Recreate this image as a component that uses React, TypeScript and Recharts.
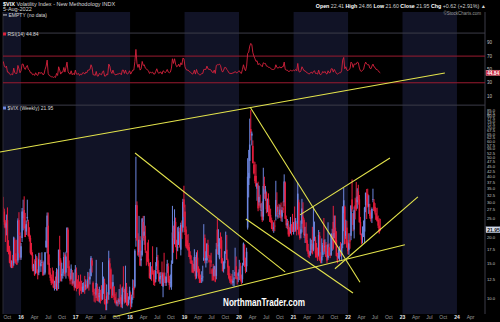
import React from 'react'
import { ComposedChart, Bar, Line, XAxis, YAxis, ReferenceArea, ReferenceLine } from 'recharts'

// weekly candles: open, high, low, close
type Candle = [number, number, number, number]

const FIRST_WEEK = '2015-09-04'
const WEEK_MS = 7 * 24 * 3600 * 1000
const X_START = Date.parse('2015-09-02')
const X_END = Date.parse('2024-07-07')

const vix2015: Candle[] = [
  [28.4, 31.9, 24.0, 27.8], [27.0, 27.9, 22.5, 23.2], [24.0, 24.5, 19.1, 22.3], [22.5, 26.1, 20.6, 23.6],
  [24.5, 28.3, 17.1, 17.1], [18.0, 19.5, 16.6, 17.1], [17.5, 18.3, 15.0, 15.1], [15.5, 17.2, 14.3, 14.5],
  [15.0, 15.5, 14.2, 15.1], [15.4, 16.5, 14.2, 14.3], [15.0, 20.3, 14.6, 20.1], [19.5, 19.9, 15.3, 15.5],
  [15.7, 16.8, 14.9, 15.1], [15.1, 19.6, 14.7, 14.8], [15.5, 25.0, 15.1, 24.4], [24.5, 26.8, 16.8, 20.7],
  [20.5, 21.3, 15.6, 16.0],
]
const vix2016: Candle[] = [
  [16.0, 18.9, 15.6, 18.2], [20.0, 28.1, 19.1, 27.0], [25.0, 30.9, 21.8, 27.0], [27.5, 32.1, 22.3, 22.3],
  [23.0, 26.6, 20.2, 20.2], [21.5, 24.4, 20.7, 23.4], [25.0, 30.9, 24.1, 25.4], [24.0, 24.6, 20.3, 20.5],
  [21.0, 22.6, 19.2, 19.8], [20.0, 20.6, 16.6, 16.9], [17.5, 18.9, 16.4, 16.5], [16.5, 17.0, 13.7, 14.0],
  [14.2, 14.9, 13.7, 14.7], [14.7, 15.7, 13.0, 13.1], [13.5, 16.6, 13.3, 15.4], [16.0, 16.3, 13.4, 13.6],
  [13.7, 14.0, 12.5, 13.2], [13.5, 16.9, 13.1, 15.7], [15.5, 16.9, 14.5, 14.7], [14.5, 15.6, 13.6, 15.0],
  [15.2, 17.0, 15.0, 15.2], [15.0, 15.5, 13.0, 13.1], [13.5, 15.3, 13.1, 13.5], [13.5, 17.0, 13.2, 17.0],
  [18.0, 22.6, 17.9, 19.4], [18.0, 26.7, 16.8, 25.8], [23.0, 26.7, 14.7, 14.8], [15.0, 16.6, 13.2, 13.2],
  [13.5, 14.2, 12.3, 12.7], [12.8, 13.2, 11.7, 12.0], [12.5, 14.3, 11.9, 12.0], [12.5, 13.8, 11.3, 11.4],
  [11.6, 12.3, 11.0, 11.6], [12.0, 12.9, 11.2, 11.3], [11.5, 14.2, 11.0, 13.6], [13.5, 14.0, 11.0, 11.9],
  [12.0, 17.5, 11.2, 17.5], [17.5, 20.5, 14.6, 15.4], [15.5, 15.9, 12.2, 12.3], [13.0, 15.1, 12.2, 13.3],
  [13.5, 14.1, 12.6, 13.5], [13.5, 17.0, 13.0, 16.1], [16.5, 16.8, 12.9, 13.3], [13.5, 17.1, 12.6, 16.2],
  [17.0, 22.5, 16.9, 22.5], [22.0, 22.5, 13.0, 14.2], [14.5, 15.5, 12.6, 12.9], [13.0, 13.4, 11.8, 12.3],
  [12.5, 14.8, 12.5, 14.1], [13.5, 13.9, 11.6, 11.8], [12.0, 13.5, 11.8, 12.2], [12.2, 12.3, 11.0, 11.4],
  [11.5, 14.7, 11.3, 14.0],
]
const vix2017: Candle[] = [
  [13.5, 14.3, 10.9, 11.3], [11.8, 12.5, 11.2, 11.2], [11.8, 13.1, 11.3, 11.5], [11.8, 12.2, 10.4, 10.6],
  [11.5, 13.2, 11.0, 11.0], [11.5, 12.3, 10.6, 10.9], [11.0, 12.0, 10.8, 11.5], [11.5, 12.1, 10.8, 11.5],
  [11.8, 13.0, 10.6, 11.0], [11.5, 12.5, 11.1, 11.7], [11.8, 12.3, 11.2, 11.3], [11.5, 13.6, 11.3, 12.5],
  [12.8, 13.5, 11.0, 12.4], [12.5, 14.1, 11.8, 12.9], [13.0, 16.3, 12.9, 15.96], [15.5, 15.9, 13.5, 14.6],
  [12.0, 12.2, 10.4, 10.8], [10.8, 11.2, 9.7, 10.6], [10.5, 11.3, 9.6, 10.4], [10.5, 15.6, 10.1, 12.0],
  [11.5, 11.9, 9.8, 9.8], [10.4, 11.2, 9.7, 9.75], [10.2, 11.5, 9.6, 10.7], [10.6, 11.1, 9.5, 10.4],
  [10.5, 11.7, 9.8, 10.0], [10.0, 15.2, 9.9, 11.2], [11.5, 12.9, 10.6, 12.1], [12.0, 12.6, 9.4, 9.5],
  [9.6, 10.0, 8.8, 9.4], [9.5, 11.8, 8.8, 10.3], [10.5, 10.8, 9.5, 10.0], [10.5, 17.3, 9.9, 15.5],
  [15.0, 15.9, 11.1, 14.3], [14.0, 14.3, 11.2, 11.3], [11.5, 12.1, 10.1, 10.1], [11.5, 13.2, 10.4, 12.1],
  [11.5, 11.6, 9.9, 10.2], [10.2, 10.6, 9.5, 9.6], [9.8, 10.8, 9.3, 9.5], [9.5, 9.9, 9.2, 9.7],
  [9.8, 10.1, 9.2, 9.6], [9.7, 11.2, 9.4, 9.97], [10.2, 11.8, 9.5, 9.8], [10.2, 10.5, 9.1, 9.1],
  [9.4, 11.5, 9.0, 11.3], [11.5, 14.5, 10.8, 11.4], [11.0, 11.2, 9.5, 9.7], [10.0, 14.6, 9.6, 11.4],
  [11.5, 12.0, 9.3, 9.6], [10.0, 10.7, 9.2, 9.4], [9.5, 10.3, 9.3, 9.9], [10.0, 11.5, 9.9, 11.0],
]
const vix2018: Candle[] = [
  [10.5, 10.8, 8.9, 9.2], [9.5, 10.5, 9.1, 10.2], [10.5, 12.5, 9.9, 11.3], [11.5, 12.4, 10.1, 11.1],
  [11.5, 17.6, 11.3, 17.3], [20.0, 50.3, 18.1, 29.1], [29.0, 30.3, 19.3, 19.5], [19.5, 21.1, 16.3, 16.5],
  [17.0, 25.7, 16.1, 19.6], [19.5, 20.4, 14.6, 14.6], [15.5, 17.3, 14.5, 15.8], [16.5, 25.1, 16.2, 24.9],
  [24.0, 25.7, 19.4, 19.97], [20.5, 25.7, 18.5, 21.5], [20.5, 23.0, 16.9, 17.4], [17.0, 17.3, 14.6, 16.9],
  [17.0, 19.0, 15.2, 15.4], [15.8, 19.6, 14.5, 14.8], [14.8, 15.1, 12.6, 12.7], [13.0, 15.2, 12.5, 13.4],
  [13.5, 14.5, 12.3, 13.2], [14.0, 18.2, 13.2, 13.5], [13.5, 13.8, 11.7, 12.2], [12.5, 13.9, 11.6, 12.0],
  [12.5, 15.2, 12.1, 13.8], [14.5, 18.0, 13.9, 16.1], [15.5, 16.5, 13.3, 13.4], [13.5, 13.9, 12.2, 12.2],
  [12.5, 13.5, 11.9, 12.9], [12.8, 13.6, 11.9, 13.0], [13.5, 15.3, 11.6, 11.6], [11.5, 13.5, 10.2, 13.2],
  [13.5, 16.9, 12.0, 12.6], [12.8, 13.0, 11.6, 12.0], [12.0, 13.5, 11.6, 12.9], [13.5, 15.6, 13.4, 14.9],
  [14.5, 15.0, 12.0, 12.1], [12.5, 13.0, 11.1, 11.7], [12.0, 13.2, 11.4, 12.1], [11.5, 15.5, 11.1, 14.8],
  [15.0, 28.8, 14.9, 21.3], [21.5, 23.0, 16.9, 19.9], [20.0, 27.7, 18.6, 24.2], [24.0, 25.2, 18.0, 19.5],
  [19.5, 19.6, 15.7, 17.4], [18.0, 22.6, 17.2, 18.1], [18.5, 22.8, 18.5, 21.5], [21.0, 22.4, 17.9, 18.1],
  [17.5, 23.8, 16.4, 23.2], [23.0, 24.4, 19.8, 21.6], [22.5, 31.2, 21.3, 30.1], [31.0, 36.2, 25.4, 28.3],
]
const vix2019: Candle[] = [
  [27.0, 29.2, 20.7, 21.4], [22.0, 22.8, 17.9, 18.2], [19.5, 20.7, 17.6, 17.8], [18.5, 20.9, 17.3, 17.4],
  [18.0, 18.9, 16.1, 16.1], [16.5, 17.2, 15.0, 15.7], [15.5, 16.4, 14.9, 14.9], [15.0, 15.5, 13.5, 13.5],
  [14.0, 14.9, 13.4, 13.6], [14.0, 17.6, 13.7, 16.1], [15.5, 16.1, 12.5, 12.9], [13.0, 17.0, 12.6, 16.5],
  [16.0, 17.4, 13.5, 13.7], [13.5, 14.5, 12.6, 12.8], [13.0, 14.1, 12.0, 12.0], [12.5, 13.2, 12.0, 12.1],
  [12.5, 13.7, 12.0, 12.7], [12.8, 14.6, 12.2, 12.9], [15.5, 23.4, 15.4, 16.0], [20.0, 20.8, 15.0, 15.96],
  [15.5, 17.2, 14.3, 15.9], [15.5, 18.9, 15.0, 18.7], [18.5, 19.6, 15.9, 16.3], [15.5, 16.5, 15.1, 15.3],
  [15.5, 16.4, 13.3, 15.4], [15.5, 16.9, 14.4, 15.1], [14.0, 14.2, 12.3, 13.3], [14.0, 14.9, 12.3, 12.4],
  [13.0, 14.6, 12.9, 14.5], [14.0, 14.5, 12.1, 12.2], [13.0, 18.9, 12.5, 17.6], [22.0, 24.8, 16.6, 17.97],
  [18.5, 22.1, 16.5, 18.5], [16.0, 19.9, 15.7, 19.9], [19.5, 21.3, 17.7, 19.0], [19.5, 20.3, 15.0, 15.0],
  [15.5, 15.9, 13.7, 13.7], [14.0, 15.3, 13.5, 15.3], [15.0, 17.2, 14.1, 17.2], [17.0, 21.5, 16.7, 17.0],
  [17.5, 20.7, 15.6, 15.6], [15.5, 15.8, 13.1, 14.3], [14.5, 14.6, 12.5, 12.7], [13.0, 13.4, 12.0, 12.3],
  [12.5, 13.0, 11.8, 12.1], [12.5, 13.3, 11.8, 12.05], [12.0, 13.9, 11.6, 12.3], [12.5, 12.8, 11.5, 12.6],
  [13.0, 17.9, 12.6, 13.6], [14.5, 16.2, 12.5, 12.6], [12.8, 13.0, 11.8, 12.5], [13.0, 13.6, 12.1, 13.4],
]
const vix2020: Candle[] = [
  [13.5, 15.6, 12.4, 14.0], [14.5, 15.1, 12.3, 12.6], [12.5, 13.2, 11.8, 12.1], [12.5, 15.1, 12.0, 14.6],
  [15.5, 19.0, 14.6, 18.8], [18.5, 18.6, 14.4, 15.5], [15.5, 16.0, 13.4, 13.7], [14.5, 17.9, 13.6, 17.1],
  [22.5, 49.5, 22.0, 40.1], [36.5, 54.4, 31.7, 41.9], [48.0, 77.6, 39.4, 57.8], [69.0, 85.5, 60.6, 66.0],
  [64.0, 67.0, 57.2, 65.5], [57.0, 60.6, 46.7, 46.8], [46.0, 47.7, 41.2, 41.7], [40.5, 47.5, 37.2, 38.2],
  [40.5, 46.2, 35.9, 35.9], [35.0, 37.2, 30.5, 37.2], [36.5, 37.9, 27.1, 27.98], [30.0, 36.2, 28.9, 31.9],
  [29.5, 32.7, 27.4, 28.2], [27.5, 29.7, 25.5, 27.5], [27.0, 30.3, 24.0, 24.5], [25.5, 44.4, 24.4, 36.1],
  [37.0, 40.1, 31.2, 35.1], [33.0, 36.1, 30.5, 34.7], [33.5, 33.9, 26.5, 27.7], [27.0, 31.3, 26.8, 27.3],
  [31.0, 33.2, 25.6, 25.7], [26.0, 29.0, 24.0, 25.8], [26.0, 27.9, 23.8, 24.5], [24.5, 25.2, 22.1, 22.2],
  [22.5, 24.4, 21.6, 22.1], [22.5, 23.9, 21.2, 22.5], [23.0, 24.5, 21.6, 22.96], [25.5, 38.3, 24.4, 30.8],
  [29.0, 33.6, 25.9, 26.9], [25.5, 28.5, 24.9, 25.8], [26.5, 29.5, 25.1, 26.4], [26.0, 29.2, 25.2, 27.6],
  [27.5, 29.9, 24.2, 25.0], [25.5, 28.4, 24.0, 27.4], [28.0, 30.3, 26.6, 27.6], [30.0, 41.2, 28.7, 38.0],
  [37.5, 38.0, 24.8, 24.9], [25.0, 25.8, 22.4, 23.1], [23.0, 24.8, 22.1, 23.7], [23.0, 24.3, 20.3, 20.8],
  [21.5, 22.6, 20.3, 20.8], [21.5, 25.4, 21.0, 23.3], [23.0, 23.4, 20.6, 21.6], [24.0, 26.3, 21.4, 21.5],
]
const vix2021: Candle[] = [
  [21.5, 24.0, 20.8, 22.75], [25.0, 28.6, 21.4, 21.6], [22.0, 25.1, 21.5, 24.3], [23.5, 23.8, 20.6, 21.9],
  [23.5, 37.5, 22.0, 33.1], [30.0, 30.9, 20.6, 20.9], [21.5, 22.7, 19.6, 19.97], [21.0, 24.4, 19.9, 22.05],
  [23.5, 31.2, 21.3, 27.95], [25.5, 30.0, 22.3, 24.7], [24.5, 25.0, 20.0, 20.7], [20.5, 22.7, 18.9, 20.95],
  [21.0, 23.9, 18.9, 18.9], [19.5, 21.0, 17.1, 17.3], [17.5, 18.7, 16.1, 16.7], [17.0, 17.2, 15.9, 16.25],
  [16.5, 19.9, 16.3, 17.3], [17.5, 19.6, 16.9, 18.6], [18.5, 22.7, 16.6, 16.7], [17.5, 28.4, 17.2, 18.8],
  [20.0, 24.1, 19.3, 20.15], [19.5, 20.3, 16.0, 16.8], [18.0, 18.9, 16.0, 16.4], [17.0, 17.9, 15.4, 15.65],
  [16.5, 21.9, 16.2, 20.7], [20.5, 21.4, 15.4, 15.6], [16.0, 17.0, 15.0, 15.1], [15.5, 19.9, 15.0, 16.2],
  [16.5, 18.9, 16.1, 18.45], [19.5, 25.1, 17.0, 17.2], [18.0, 19.7, 16.6, 18.2], [18.5, 19.1, 16.1, 16.15],
  [16.5, 17.2, 15.0, 15.45], [16.0, 23.9, 15.6, 18.6], [18.0, 18.8, 16.3, 16.4], [16.5, 16.9, 15.9, 16.4],
  [16.5, 21.1, 16.3, 20.95], [20.0, 22.2, 17.3, 20.8], [24.0, 28.8, 17.5, 17.75], [20.0, 25.8, 19.9, 21.15],
  [22.5, 25.8, 18.5, 18.8], [19.5, 21.6, 16.2, 16.3], [16.5, 16.9, 15.0, 15.4], [16.0, 17.6, 15.8, 16.3],
  [16.5, 18.2, 15.4, 16.5], [17.0, 19.1, 16.2, 16.3], [16.5, 18.8, 15.6, 17.9], [18.5, 28.6, 17.8, 28.6],
  [26.5, 35.3, 21.6, 30.7], [28.5, 28.9, 18.6, 18.7], [20.5, 24.6, 19.8, 21.6], [22.5, 24.3, 17.9, 17.96],
  [19.0, 19.5, 16.6, 17.2],
]
const vix2022: Candle[] = [
  [17.5, 21.1, 16.5, 18.8], [19.5, 21.1, 17.7, 19.2], [20.5, 29.0, 19.5, 28.9], [31.0, 38.9, 26.9, 27.7],
  [26.5, 26.6, 21.6, 23.2], [22.0, 28.6, 19.9, 27.4], [29.0, 31.6, 24.7, 27.8], [31.0, 37.8, 27.2, 27.6],
  [30.0, 35.2, 27.9, 32.0], [34.0, 36.6, 29.2, 30.75], [31.0, 32.6, 23.8, 23.9], [24.0, 25.4, 20.6, 20.8],
  [20.5, 21.0, 18.6, 19.6], [20.5, 22.8, 18.8, 21.2], [22.0, 24.4, 20.2, 22.0], [21.5, 28.5, 18.9, 28.2],
  [29.0, 33.5, 26.8, 33.4], [31.0, 34.9, 24.8, 30.2], [33.0, 35.0, 28.3, 28.9], [28.5, 32.5, 26.3, 29.4],
  [27.5, 29.5, 24.9, 25.7], [26.5, 27.0, 24.1, 24.8], [25.0, 28.3, 23.7, 27.8], [31.0, 35.0, 30.0, 31.1],
  [30.0, 31.1, 27.2, 27.2], [28.5, 29.7, 26.1, 26.7], [26.5, 28.1, 24.6, 24.6], [25.5, 28.2, 24.1, 24.2],
  [24.5, 25.8, 22.4, 23.0], [23.0, 25.0, 21.0, 21.3], [22.41, 24.86, 21.6, 21.95],
]

// weekly RSI(14)
const rsi2015 = [62, 55, 53, 55, 46, 46, 43, 42, 43, 42, 52, 45, 44, 44, 56, 51, 45]
const rsi2016 = [
  48, 58, 58, 52, 50, 54, 56, 50, 49, 45, 45, 42, 43, 41, 45, 42, 41, 46, 44, 45, 45, 42, 43, 50, 55, 64,
  44, 41, 40, 39, 39, 38, 39, 38, 44, 41, 54, 49, 43, 46, 46, 53, 46, 53, 61, 47, 44, 43, 48, 42, 44, 42, 49,
]
const rsi2017 = [
  43, 43, 44, 41, 43, 42, 45, 45, 43, 46, 45, 49, 49, 50, 57, 53, 42, 42, 41, 47, 40, 40, 44, 43, 42, 46,
  48, 40, 40, 43, 42, 58, 55, 47, 44, 49, 44, 42, 42, 43, 43, 44, 44, 42, 49, 49, 44, 49, 44, 43, 45, 48,
]
const rsi2018 = [
  43, 46, 49, 49, 62, 80, 59, 53, 58, 49, 51, 62, 56, 57, 52, 51, 49, 48, 44, 46, 45, 46, 43, 43, 47, 51,
  46, 44, 46, 46, 43, 48, 47, 45, 47, 50, 46, 45, 46, 52, 66, 59, 66, 58, 54, 55, 58, 54, 60, 57, 67, 66,
]
const rsi2019 = [
  54, 50, 49, 49, 47, 46, 45, 43, 44, 49, 43, 50, 45, 43, 42, 42, 44, 44, 50, 50, 50, 55, 51, 50, 50, 49,
  46, 45, 49, 44, 56, 57, 57, 58, 56, 49, 46, 49, 53, 53, 50, 48, 45, 44, 44, 44, 45, 45, 47, 45, 45, 47,
]
const rsi2020 = [
  48, 45, 44, 50, 57, 51, 48, 55, 74, 76, 85, 89, 87, 75, 70, 66, 62, 63, 57, 59, 57, 56, 54, 60, 59, 59,
  55, 55, 53, 53, 52, 50, 50, 50, 51, 57, 53, 52, 53, 54, 52, 54, 54, 61, 50, 49, 49, 47, 47, 49, 48, 48,
]
const rsi2021 = [
  49, 48, 50, 48, 59, 47, 46, 48, 54, 51, 48, 48, 46, 45, 44, 43, 45, 46, 44, 47, 48, 44, 44, 43, 49, 43,
  42, 44, 47, 45, 47, 44, 43, 48, 45, 45, 51, 51, 46, 50, 47, 44, 43, 44, 45, 45, 48, 64, 68, 51, 54, 49, 48,
]
const rsi2022 = [
  50, 51, 61, 59, 53, 58, 58, 58, 61, 60, 52, 48, 47, 49, 50, 57, 61, 58, 57, 57, 52, 51, 55, 58, 54, 53,
  50, 50, 48, 46, 44.84,
]

const LAST_CLOSE = 21.95
const LAST_RSI = 44.84

const priceTicks = [10, 12.5, 15, 17.5, 20, 25, 27.5, 30, 32.5, 35, 37.5, 40, 42.5, 45, 47.5, 50, 52.5, 55,
  57.5, 60, 62.5, 65, 67.5, 70, 72.5, 75, 77.5, 80, 82.5, 85, LAST_CLOSE]
const rsiTicks = [10, 30, 50, 70, 90]
const rsiBands = [30, 70]

const shadedYears = [2015, 2017, 2019, 2021, 2023]
const axisYears = [2016, 2017, 2018, 2019, 2020, 2021, 2022, 2023, 2024]
const quarterMonths: [string, string][] = [['04', 'Apr'], ['07', 'Jul'], ['10', 'Oct']]

// hand drawn trend lines: [date, price] -> [date, price]
const trendLines: [string, number, string, number][] = [
  ['2015-08-13', 53.1, '2023-10-12', 130.3],
  ['2018-02-03', 52.5, '2020-11-05', 13.6],
  ['2020-02-16', 24.8, '2022-02-03', 10.7],
  ['2020-03-15', 88.5, '2022-03-22', 12.1],
  ['2017-09-09', 8.15, '2023-01-17', 18.5],
  ['2021-02-13', 26.0, '2022-10-09', 49.6],
  ['2021-10-05', 14.1, '2023-04-14', 31.9],
]

const UP = '#6c86de'
const DOWN = '#e61d3d'
const YELLOW = '#e4e44c'
const NAVY = '#111326'

const candles = [...vix2015, ...vix2016, ...vix2017, ...vix2018, ...vix2019, ...vix2020, ...vix2021, ...vix2022]
const rsiAll = [...rsi2015, ...rsi2016, ...rsi2017, ...rsi2018, ...rsi2019, ...rsi2020, ...rsi2021, ...rsi2022]

const data = candles.map((c, i) => ({
  t: Date.parse(FIRST_WEEK) + i * WEEK_MS,
  open: c[0],
  high: c[1],
  low: c[2],
  close: c[3],
  range: [c[2], c[1]],
  rsi: rsiAll[i],
}))

const xTicks: { t: number; label: string; year: boolean }[] = [{ t: Date.parse('2015-10-01'), label: 'Oct', year: false }]
for (const y of axisYears) {
  xTicks.push({ t: Date.parse(`${y}-01-01`), label: String(y).slice(2), year: true })
  for (const [m, name] of quarterMonths) {
    if (y === 2024 && m !== '04') continue
    xTicks.push({ t: Date.parse(`${y}-${m}-01`), label: name, year: false })
  }
}

function CandleShape(props: any) {
  const { x, y, width, height, payload } = props
  if (!payload || !isFinite(y) || !isFinite(height)) return null
  const { open, high, low, close } = payload
  const span = Math.log(high) - Math.log(low) || 1
  const pos = (v: number) => y + (height * (Math.log(high) - Math.log(v))) / span
  const cx = x + width / 2
  const color = close >= open ? UP : DOWN
  const top = pos(Math.max(open, close))
  const bot = pos(Math.min(open, close))
  return (
    <g>
      <rect x={cx - 0.5} y={y} width={1} height={Math.max(height, 0.6)} fill={color} />
      <rect x={cx - 0.75} y={top} width={1.5} height={Math.max(bot - top, 0.8)} fill={color} />
    </g>
  )
}

function TimeTick(props: any) {
  const { x, y, payload } = props
  const tick = xTicks.find((d) => d.t === payload.value)
  if (!tick) return null
  return (
    <text x={x} y={y} dy={4} textAnchor="middle" fontSize={5} fontWeight={tick.year ? 'bold' : 'normal'}
      fill={tick.year ? '#e6e6e6' : '#9a9a9a'}>
      {tick.label}
    </text>
  )
}

function PriceTick(props: any) {
  const { x, y, payload } = props
  const v = payload.value
  if (v === LAST_CLOSE) {
    return (
      <g>
        <rect x={x - 1} y={y - 3} width={14} height={6} fill="#d3dae8" stroke="#8a96b0" strokeWidth={0.4} />
        <text x={x + 0.2} y={y} dy={1.8} fontSize={5} fontWeight="bold" fill="#111">{v.toFixed(2)}</text>
      </g>
    )
  }
  return (
    <text x={x} y={y} dy={1.5} fontSize={4.2} fill="#c4c4c4">{v.toFixed(1)}</text>
  )
}

function RsiTag(props: any) {
  const vb = props.viewBox
  if (!vb) return null
  const x = vb.x + vb.width + 1
  return (
    <g>
      <rect x={x} y={vb.y - 2.7} width={14} height={5.4} fill="#c8213a" stroke="#f0b0b8" strokeWidth={0.4} />
      <text x={x + 1.2} y={vb.y} dy={1.7} fontSize={4.8} fontWeight="bold" fill="#fff">{LAST_RSI.toFixed(2)}</text>
    </g>
  )
}

export default function App() {
  return (
    <div style={{ position: 'relative', width: 500, height: 322, background: '#000', fontFamily: "'Liberation Sans', Arial, sans-serif" }}>
      <style>{'body{margin:0;background:#000}'}</style>
      <ComposedChart width={500} height={322} data={data} margin={{ top: 12, right: 0, left: 3, bottom: 0 }}>
        <XAxis dataKey="t" type="number" domain={[X_START, X_END]} allowDataOverflow ticks={xTicks.map((d) => d.t)}
          interval={0} tick={<TimeTick />} tickSize={0} tickMargin={1} axisLine={false} tickLine={false} height={8} />
        <YAxis yAxisId="price" orientation="right" type="number" scale="log" domain={[8.43, 260.6]} allowDataOverflow
          ticks={priceTicks} interval={0} tick={<PriceTick />} tickSize={0} tickMargin={2} axisLine={false}
          tickLine={false} width={15} />
        <YAxis yAxisId="rsi" hide type="number" domain={[-316.6, 136.1]} allowDataOverflow />

        {shadedYears.map((y) => (
          <ReferenceArea key={y} yAxisId="price" x1={Math.max(Date.parse(`${y}-01-01`), X_START)}
            x2={Math.min(Date.parse(`${y + 1}-01-01`), X_END)} fill={NAVY} fillOpacity={1} stroke="none" ifOverflow="hidden" />
        ))}

        <ReferenceLine yAxisId="rsi" y={104.5} stroke="#3c3c48" strokeWidth={1} />
        <ReferenceLine yAxisId="rsi" y={-3.5} stroke="#3c3c48" strokeWidth={1} />
        <ReferenceLine yAxisId="price" x={X_END} stroke="#3c3c48" strokeWidth={1} ifOverflow="visible" />
        <ReferenceLine yAxisId="price" x={X_START} stroke="#2a2a34" strokeWidth={1} ifOverflow="visible" />

        {rsiTicks.map((r) => (
          <ReferenceLine key={r} yAxisId="rsi" y={r} stroke={rsiBands.includes(r) ? '#9a1b30' : 'none'} strokeWidth={1}
            label={{ value: String(r), position: 'right', offset: 2, fill: '#c4c4c4', fontSize: 4.5 }} />
        ))}
        <ReferenceLine yAxisId="rsi" y={LAST_RSI} stroke="none" label={(p: any) => <RsiTag {...p} />} />

        <Line yAxisId="rsi" dataKey="rsi" stroke="#d8223d" strokeWidth={0.9} dot={false} activeDot={false}
          isAnimationActive={false} />
        <Bar yAxisId="price" dataKey="range" barSize={1} shape={CandleShape} isAnimationActive={false} />

        {trendLines.map(([d1, p1, d2, p2], i) => (
          <ReferenceLine key={i} yAxisId="price" ifOverflow="visible" stroke={YELLOW} strokeWidth={1.1}
            segment={[{ x: Date.parse(d1), y: p1 }, { x: Date.parse(d2), y: p2 }]} />
        ))}
      </ComposedChart>

      <svg width={500} height={322} style={{ position: 'absolute', left: 0, top: 0, pointerEvents: 'none' }}>
        <text x={3} y={5.5} fontSize={5.5} fill="#d8d8d8">
          <tspan fontWeight="bold" fill="#fff">$VIX</tspan> Volatility Index - New Methodology  INDX
        </text>
        <text x={3} y={11} fontSize={5.5} fill="#d8d8d8">5-Aug-2022</text>
        <text x={486} y={8} fontSize={5.3} fill="#cfcfcf" textAnchor="end">
          <tspan fontWeight="bold" fill="#fff">Open</tspan> 22.41 <tspan fontWeight="bold" fill="#fff">High</tspan> 24.86{' '}
          <tspan fontWeight="bold" fill="#fff">Low</tspan> 21.60 <tspan fontWeight="bold" fill="#fff">Close</tspan> 21.95{' '}
          <tspan fontWeight="bold" fill="#fff">Chg</tspan> +0.62 (+2.91%) ▲
        </text>
        <text x={481} y={15} fontSize={4.5} fill="#9a9a9a" textAnchor="end">©StockCharts.com</text>

        <rect x={3} y={14.5} width={4} height={0.9} fill="#e0e0e0" />
        <text x={8.5} y={16.8} fontSize={5} fill="#d8d8d8">EMPTY (no data)</text>

        <rect x={3} y={32.5} width={3} height={3} fill="#d8223d" />
        <text x={7.5} y={36} fontSize={5} fill="#d8d8d8">RSI(14) 44.84</text>

        <rect x={3} y={106.5} width={3} height={3} fill={UP} />
        <text x={7.5} y={110} fontSize={5} fill="#d8d8d8">$VIX (Weekly) 21.95</text>

        <text x={223} y={306} fontSize={10} fontWeight="bold" fill="#fff" textLength={82} lengthAdjust="spacingAndGlyphs">
          NorthmanTrader.com
        </text>
      </svg>
    </div>
  )
}
